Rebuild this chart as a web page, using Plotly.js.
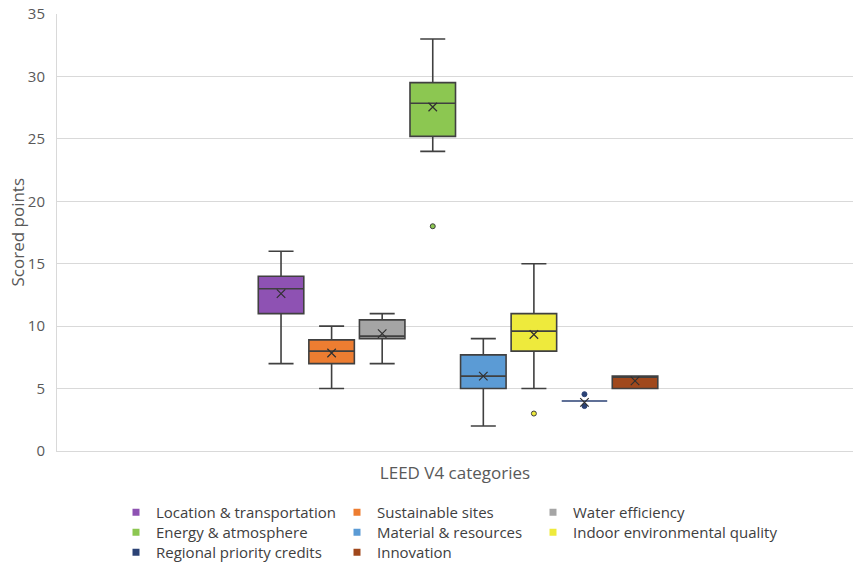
<!DOCTYPE html>
<html>
<head>
<meta charset="utf-8">
<script src="https://cdn.plot.ly/plotly-3.0.1.min.js"></script>
<style>html,body{margin:0;padding:0;background:#fff;}#chart{width:854px;height:564px;}</style>
</head>
<body>
<div id="chart"></div>
<script>
// ---- data ----
const categories = ['Location & transportation','Sustainable sites','Water efficiency','Energy & atmosphere','Material & resources','Indoor environmental quality','Regional priority credits','Innovation'];
const lowerWhisker = [7, 5, 7, 24, 2, 5, 4, 5];
const q1Values     = [11, 7, 9, 25.2, 5, 8, 4, 5];
const medianValues = [13, 8, 9.2, 27.85, 6, 9.6, 4, 6];
const q3Values     = [14, 8.9, 10.5, 29.5, 7.7, 11, 4, 6];
const upperWhisker = [16, 10, 11, 33, 9, 15, 4, 6];
const meanValues   = [12.6, 7.85, 9.4, 27.55, 6.0, 9.33, 3.9, 5.62];
const outlierCats  = ['Energy & atmosphere','Indoor environmental quality','Regional priority credits','Regional priority credits'];
const outlierVals  = [18, 3, 4.55, 3.6];
const xAxisTitle = 'LEED V4 categories';
const yAxisTitle = 'Scored points';

// ---- styles / legend layout (column, row) ----
const colors = ['#8E52B3','#ED7D31','#A5A5A5','#8CC751','#5B9BD5','#EEEA3C','#2B4275','#A0481C'];
const boxLine = ['#404040','#404040','#404040','#404040','#404040','#404040','#2B4275','#404040'];
const legendCol = [0, 1, 2, 0, 1, 2, 0, 1];
const legendRow = [0, 0, 0, 1, 1, 1, 2, 2];
const colTextX = [156, 377, 573];
const rowTopY = [496, 516, 536];
const FONT = 'Open Sans, Noto Sans, sans-serif';

const traces = [];
categories.forEach((c, i) => {
  traces.push({
    type: 'box', name: c, x: [c],
    q1: [q1Values[i]], median: [medianValues[i]], q3: [q3Values[i]],
    lowerfence: [lowerWhisker[i]], upperfence: [upperWhisker[i]],
    fillcolor: colors[i], line: {color: boxLine[i], width: 1.6},
    width: 0.9, whiskerwidth: 0.55, boxpoints: false,
    showlegend: false, hoverinfo: 'skip'
  });
});
// outliers
traces.push({
  type: 'scatter', mode: 'markers', x: outlierCats, y: outlierVals,
  marker: {size: 5, symbol: 'circle',
    color: outlierCats.map(c => colors[categories.indexOf(c)]),
    line: {color: outlierCats.map(c => c === 'Regional priority credits' ? '#2B4275' : '#404040'), width: 1}},
  showlegend: false, hoverinfo: 'skip'
});
// means
traces.push({
  type: 'scatter', mode: 'markers', x: categories, y: meanValues,
  marker: {size: 8.5, symbol: 'x-thin-open', line: {color: '#303030', width: 1.2}, color: '#303030'},
  showlegend: false, hoverinfo: 'skip'
});

const layout = {
  width: 854, height: 564,
  margin: {l: 57, r: 1, t: 14, b: 113, autoexpand: false},
  paper_bgcolor: '#ffffff', plot_bgcolor: '#ffffff',
  font: {family: FONT, color: '#595959'},
  showlegend: true,
  xaxis: {
    type: 'category', categoryorder: 'array', categoryarray: categories,
    range: [-4.43, 11.31], showticklabels: false, ticks: '',
    showgrid: false, zeroline: false, showline: true, linecolor: '#D9D9D9', linewidth: 1,
    automargin: true,
    title: {text: xAxisTitle, font: {family: FONT, size: 17, color: '#595959'}, standoff: 16}
  },
  yaxis: {
    range: [0, 35], dtick: 5, tick0: 0, automargin: true,
    showgrid: true, gridcolor: '#D9D9D9', gridwidth: 1,
    zeroline: false, showline: true, linecolor: '#D9D9D9', linewidth: 1,
    ticks: 'outside', ticklen: 8, tickcolor: 'rgba(0,0,0,0)',
    tickfont: {family: FONT, size: 15, color: '#595959'}
  },
  annotations: [{
    text: yAxisTitle, textangle: -90, showarrow: false,
    xref: 'paper', yref: 'paper', x: (17 - 57) / 796, y: 0.5,
    xanchor: 'center', yanchor: 'middle',
    font: {family: FONT, size: 17, color: '#595959'}
  }]
};

// legend entries: one small legend per entry, placed on a 3-column grid
categories.forEach((c, i) => {
  const key = i === 0 ? 'legend' : ('legend' + (i + 1));
  traces.push({
    type: 'scatter', mode: 'markers', name: c, x: [null], y: [null],
    marker: {symbol: 'square', size: 7, color: colors[i]},
    legend: key, showlegend: true, hoverinfo: 'skip'
  });
  layout[key] = {
    xref: 'container', yref: 'container', xanchor: 'left', yanchor: 'top',
    x: (colTextX[legendCol[i]] - 40) / 854, y: 1 - rowTopY[legendRow[i]] / 564,
    orientation: 'v', bgcolor: 'rgba(0,0,0,0)', borderwidth: 0,
    font: {family: FONT, size: 15, color: '#404040'}, itemclick: false
  };
});

Plotly.newPlot('chart', traces, layout, {displayModeBar: false, staticPlot: true});
</script>
</body>
</html>
